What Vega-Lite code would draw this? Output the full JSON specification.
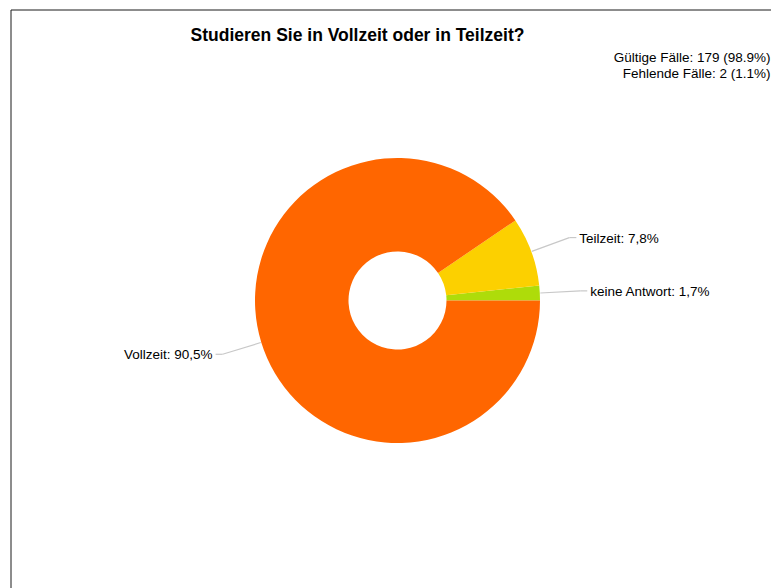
{
  "$schema": "https://vega.github.io/schema/vega-lite/v6.json",
  "width": 774,
  "height": 582,
  "autosize": {"type": "none"},
  "padding": {"left": 10.5, "top": 9.5, "right": -13.5, "bottom": -3.5},
  "background": "white",
  "config": {"view": {"stroke": "#1a1a1a", "strokeWidth": 1}, "font": "Liberation Sans"},
  "title": {
    "text": "Studieren Sie in Vollzeit oder in Teilzeit?",
    "anchor": "middle",
    "dx": -40,
    "offset": 0,
    "dy": 48.5,
    "baseline": "alphabetic",
    "font": "Liberation Sans",
    "fontSize": 17.5,
    "fontWeight": "bold",
    "color": "#000000"
  },
  "data": {
    "values": [
      {"category": "keine Antwort", "count": 3, "ord": 1, "label": "keine Antwort: 1,7%"},
      {"category": "Teilzeit", "count": 14, "ord": 2, "label": "Teilzeit: 7,8%"},
      {"category": "Vollzeit", "count": 162, "ord": 3, "label": "Vollzeit: 90,5%"}
    ]
  },
  "transform": [
    {"window": [{"op": "sum", "field": "count", "as": "cum"}], "sort": [{"field": "ord"}], "frame": [null, 0]},
    {"joinaggregate": [{"op": "sum", "field": "count", "as": "total"}]},
    {"calculate": "(datum.cum - datum.count / 2) / datum.total * 2 * PI", "as": "a"},
    {"calculate": "cos(datum.a) >= 0 ? 1 : -1", "as": "s"},
    {"calculate": "143 * cos(datum.a)", "as": "ex"},
    {"calculate": "143 * sin(datum.a)", "as": "ey"},
    {"calculate": "183 * cos(datum.a)", "as": "kx"},
    {"calculate": "183 * sin(datum.a)", "as": "ky"},
    {"calculate": "datum.kx + 7 * datum.s", "as": "hx"},
    {"calculate": "datum.hx + 3 * datum.s", "as": "tx"}
  ],
  "layer": [
    {
      "mark": {"type": "arc", "innerRadius": 49, "radius": 142.5},
      "encoding": {
        "theta": {"field": "count", "type": "quantitative", "stack": true, "scale": {"range": [1.5707963, -4.712389]}},
        "order": {"field": "ord", "type": "quantitative"},
        "color": {
          "field": "category",
          "type": "nominal",
          "scale": {"domain": ["Vollzeit", "Teilzeit", "keine Antwort"], "range": ["#FF6600", "#FCD000", "#AEDC0A"]},
          "legend": null
        }
      }
    },
    {
      "mark": {"type": "rule", "color": "#c8c8c8", "strokeWidth": 1.2},
      "encoding": {
        "x": {"field": "ex", "type": "quantitative", "scale": {"domain": [-387, 387], "nice": false, "zero": false}, "axis": null},
        "y": {"field": "ey", "type": "quantitative", "scale": {"domain": [-291, 291], "nice": false, "zero": false}, "axis": null},
        "x2": {"field": "kx"},
        "y2": {"field": "ky"}
      }
    },
    {
      "mark": {"type": "rule", "color": "#c8c8c8", "strokeWidth": 1.2},
      "encoding": {
        "x": {"field": "kx", "type": "quantitative", "axis": null},
        "y": {"field": "ky", "type": "quantitative", "axis": null},
        "x2": {"field": "hx"},
        "y2": {"field": "ky"}
      }
    },
    {
      "transform": [{"filter": "datum.s > 0"}],
      "mark": {"type": "text", "align": "left", "baseline": "middle", "fontSize": 13.5, "font": "Liberation Sans", "color": "#000000", "dy": 1},
      "encoding": {
        "x": {"field": "tx", "type": "quantitative", "axis": null},
        "y": {"field": "ky", "type": "quantitative", "axis": null},
        "text": {"field": "label"}
      }
    },
    {
      "transform": [{"filter": "datum.s < 0"}],
      "mark": {"type": "text", "align": "right", "baseline": "middle", "fontSize": 13.5, "font": "Liberation Sans", "color": "#000000", "dy": 1},
      "encoding": {
        "x": {"field": "tx", "type": "quantitative", "axis": null},
        "y": {"field": "ky", "type": "quantitative", "axis": null},
        "text": {"field": "label"}
      }
    },
    {
      "data": {"values": [{"info": "Gültige Fälle: 179 (98.9%)\nFehlende Fälle: 2 (1.1%)"}]},
      "mark": {"type": "text", "align": "right", "baseline": "alphabetic", "fontSize": 13.5, "font": "Liberation Sans", "color": "#000000", "lineBreak": "\n", "lineHeight": 16, "x": {"expr": "width - 14"}, "y": 52.5},
      "encoding": {"text": {"field": "info"}}
    }
  ]
}
